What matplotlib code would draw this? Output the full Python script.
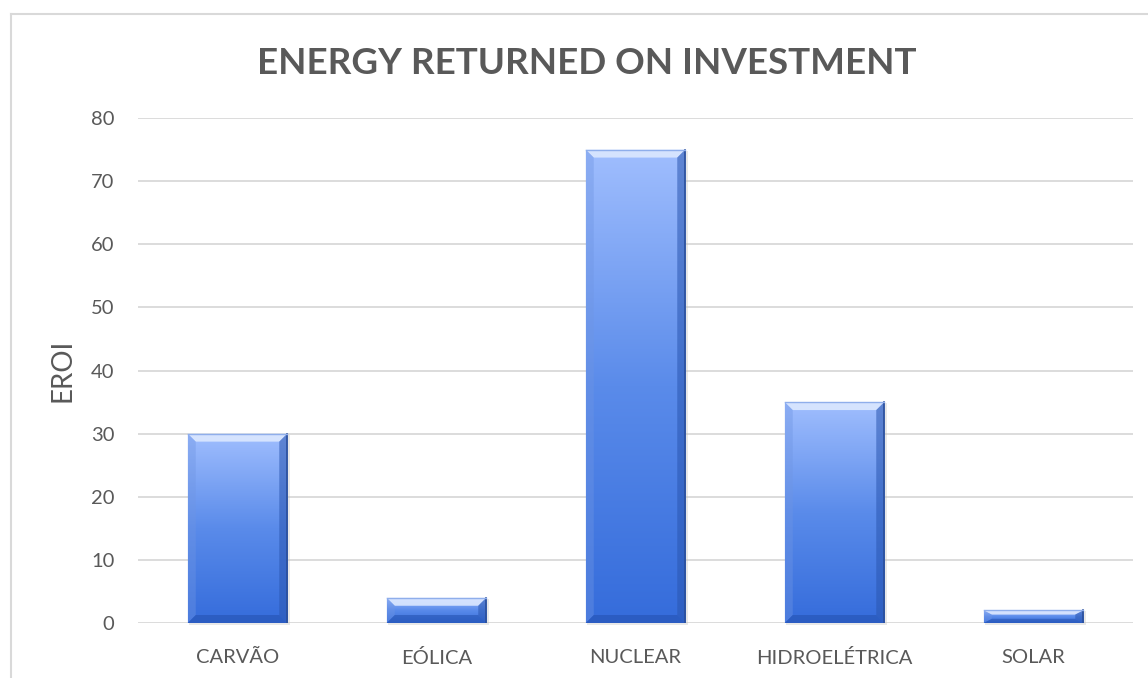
import numpy as np
import matplotlib
matplotlib.use("Agg")
import matplotlib.pyplot as plt
from matplotlib.colors import LinearSegmentedColormap
from matplotlib.patches import Rectangle, Polygon

# data
categories = ["CARVÃO", "EÓLICA", "NUCLEAR", "HIDROELÉTRICA", "SOLAR"]
eroi = [30, 4, 75, 35, 2]
y_ticks = [0, 10, 20, 30, 40, 50, 60, 70, 80]

plt.rcParams['font.family'] = ['Lato', 'DejaVu Sans']
text_gray = "#595959"
grid_gray = "#D9D9D9"

W, H = 1148, 678
fig = plt.figure(figsize=(W / 100, H / 100), dpi=100)

# chart frame (only left/top edges visible in the crop)
fig.add_artist(plt.Line2D([11 / W, 11 / W], [0, 1 - 14 / H], color=grid_gray, lw=1.5))
fig.add_artist(plt.Line2D([11 / W, 1], [1 - 14 / H, 1 - 14 / H], color=grid_gray, lw=1.5))

ax_l, ax_r, ax_t, ax_b = 138, 1133, 118, 623
ax = fig.add_axes([ax_l / W, 1 - ax_b / H, (ax_r - ax_l) / W, (ax_b - ax_t) / H])
x = np.arange(len(categories))
ax.set_xlim(-0.5, len(categories) - 0.5)
ax.set_ylim(0, 80)
ax.set_yticks(y_ticks)
ax.grid(axis='y', color=grid_gray, lw=1.3, zorder=0)
ax.set_axisbelow(True)
for s in ax.spines.values():
    s.set_visible(False)
ax.tick_params(axis='both', length=0, labelsize=14.5, labelcolor=text_gray)
ax.tick_params(axis='y', pad=17)
ax.tick_params(axis='x', pad=19)
ax.set_xticks(x)
ax.set_xticklabels(categories)
ax.set_ylabel("EROI", fontsize=20, color=text_gray, labelpad=11)

# pixels -> data units
px_x = (len(categories)) / (ax_r - ax_l)
px_y = 80 / (ax_b - ax_t)

cmap = LinearSegmentedColormap.from_list("bar", ["#356CDB", "#5A8BEA", "#A0BEFE"])
grad = np.linspace(0, 1, 256).reshape(-1, 1)
bar_w = 0.5
bev = 8

for xi, v in zip(x, eroi):
    x0, x1 = xi - bar_w / 2, xi + bar_w / 2
    # soft shadow
    ax.add_patch(Rectangle((x0 + 1 * px_x, -2 * px_y), bar_w + 2 * px_x, v + 1 * px_y,
                           color="#BFBFBF", alpha=0.35, lw=0, zorder=2, clip_on=False))
    rect = Rectangle((x0, 0), bar_w, v, facecolor="none", lw=0, zorder=3)
    ax.add_patch(rect)
    im = ax.imshow(grad, cmap=cmap, origin='lower', aspect='auto',
                   extent=[x0, x1, 0, v], zorder=3, interpolation='bilinear')
    im.set_clip_path(rect)
    bx, by = bev * px_x, min(bev * px_y, v / 3)
    # top bevel highlight
    ax.add_patch(Polygon([(x0, v), (x1, v), (x1 - bx, v - by), (x0 + bx, v - by)],
                         closed=True, facecolor="#DCE8FF", alpha=0.9, lw=0, zorder=4))
    # left bevel
    ax.add_patch(Polygon([(x0, v), (x0 + bx, v - by), (x0 + bx, by), (x0, 0)],
                         closed=True, facecolor="#6F95E3", alpha=0.4, lw=0, zorder=4))
    # right bevel
    ax.add_patch(Polygon([(x1, v), (x1 - bx, v - by), (x1 - bx, by), (x1, 0)],
                         closed=True, facecolor="#2A56B0", alpha=0.55, lw=0, zorder=4))
    # bottom bevel
    ax.add_patch(Polygon([(x0, 0), (x1, 0), (x1 - bx, by), (x0 + bx, by)],
                         closed=True, facecolor="#2350AE", alpha=0.55, lw=0, zorder=4))
    # outline edges
    ax.plot([x1, x1], [0, v], color="#2B4F9A", lw=1.2, zorder=5)
    ax.plot([x0, x1], [v, v], color="#8FAEEB", lw=1.0, zorder=5)

fig.text(587 / W, 1 - 63 / H, "ENERGY RETURNED ON INVESTMENT", ha='center', va='center',
         fontsize=26.5, fontweight='bold', color=text_gray)

fig.savefig("out.png", dpi=100)
